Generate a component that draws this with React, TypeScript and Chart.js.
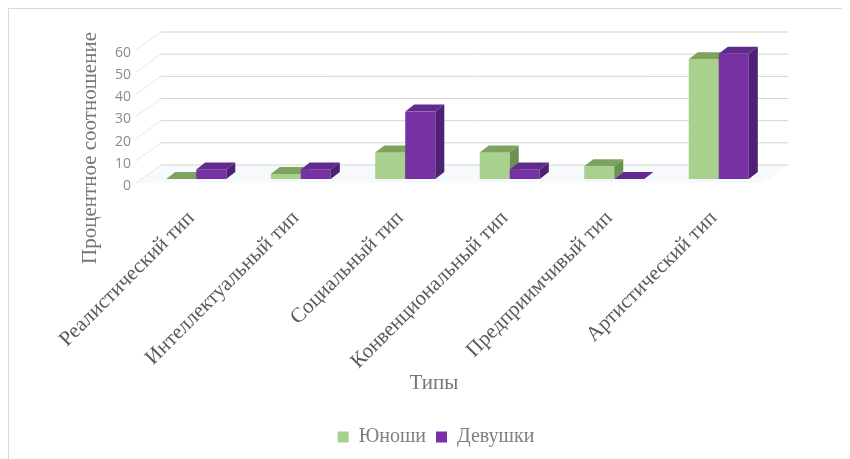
import React, { useRef, useEffect } from "react";
import { Chart, registerables } from "chart.js";

Chart.register(...registerables);

const categories = [
  "Реалистический тип",
  "Интеллектуальный тип",
  "Социальный тип",
  "Конвенциональный тип",
  "Предприимчивый тип",
  "Артистический тип",
];
const seriesNames = ["Юноши", "Девушки"];
const boysValues = [0, 2.3, 12, 12, 5.7, 54];
const girlsValues = [4.3, 4.3, 30.4, 4.3, 0, 56.5];
const yTicks = [0, 10, 20, 30, 40, 50, 60];
const xTitle = "Типы";
const yTitle = "Процентное соотношение";

// 3D look: back wall, front edge and bar depth offsets (px)
const WALL_DX = 17;
const WALL_DY = 14;
const EDGE_DX = -8;
const EDGE_DY = 4;
const BAR_DX = 9;
const BAR_DY = 7;

const faces = [
  { front: "#a9d18e", top: "#7ea35f", side: "#6d9150" },
  { front: "#7631a3", top: "#622a8d", side: "#4e2175" },
];

const serif = "'Liberation Serif', 'Times New Roman', serif";

const threeD = {
  id: "threeD",
  beforeDatasetsDraw(chart: any) {
    const { ctx, chartArea, scales } = chart;
    const { left, right, bottom } = chartArea;
    ctx.save();
    // floor
    ctx.fillStyle = "rgba(226, 238, 246, 0.3)";
    ctx.beginPath();
    ctx.moveTo(left + EDGE_DX, bottom + EDGE_DY);
    ctx.lineTo(right + EDGE_DX, bottom + EDGE_DY);
    ctx.lineTo(right + WALL_DX, bottom - WALL_DY);
    ctx.lineTo(left + WALL_DX, bottom - WALL_DY);
    ctx.closePath();
    ctx.fill();
    // side wall + back wall grid
    ctx.lineWidth = 1;
    scales.y.ticks.forEach((t: any) => {
      const py = scales.y.getPixelForValue(t.value);
      ctx.strokeStyle = "#e8e4e4";
      ctx.beginPath();
      ctx.moveTo(left + EDGE_DX, py + EDGE_DY);
      ctx.lineTo(left + WALL_DX, py - WALL_DY);
      ctx.stroke();
      ctx.strokeStyle = "#d9d2d2";
      ctx.beginPath();
      ctx.moveTo(left + WALL_DX, py - WALL_DY);
      ctx.lineTo(right + WALL_DX, py - WALL_DY);
      ctx.stroke();
    });
    ctx.restore();
  },
  beforeDatasetDraw() {
    return false;
  },
  afterDatasetsDraw(chart: any) {
    const { ctx } = chart;
    const metas = chart.data.datasets.map((_: any, i: number) => chart.getDatasetMeta(i));
    ctx.save();
    for (let j = 0; j < categories.length; j++) {
      metas.forEach((meta: any, i: number) => {
        const el = meta.data[j];
        const { x, y, base, width } = el.getProps(["x", "y", "base", "width"], true);
        const x0 = x - width / 2;
        const x1 = x + width / 2;
        const c = faces[i];
        ctx.fillStyle = c.front;
        ctx.fillRect(x0, y, width, base - y);
        ctx.fillStyle = c.top;
        ctx.beginPath();
        ctx.moveTo(x0, y);
        ctx.lineTo(x0 + BAR_DX, y - BAR_DY);
        ctx.lineTo(x1 + BAR_DX, y - BAR_DY);
        ctx.lineTo(x1, y);
        ctx.closePath();
        ctx.fill();
        ctx.fillStyle = c.side;
        ctx.beginPath();
        ctx.moveTo(x1, y);
        ctx.lineTo(x1 + BAR_DX, y - BAR_DY);
        ctx.lineTo(x1 + BAR_DX, base - BAR_DY);
        ctx.lineTo(x1, base);
        ctx.closePath();
        ctx.fill();
      });
    }
    ctx.restore();
  },
  afterDraw(chart: any) {
    const { ctx } = chart;
    ctx.save();
    ctx.font = `21px ${serif}`;
    ctx.fillStyle = "#767676";
    ctx.textAlign = "center";
    ctx.textBaseline = "middle";
    ctx.fillText(xTitle, 425, 374);
    ctx.translate(81, 139);
    ctx.rotate(-Math.PI / 2);
    ctx.fillText(yTitle, 0, 0);
    ctx.restore();
  },
};

const App: React.FC = () => {
  const chartRef = useRef<HTMLCanvasElement | null>(null);
  const chartInstanceRef = useRef<Chart | null>(null);

  useEffect(() => {
    if (chartRef.current) {
      const ctx = chartRef.current.getContext("2d");
      if (ctx) {
        chartInstanceRef.current = new Chart(ctx, {
          type: "bar",
          data: {
            labels: categories,
            datasets: [
              {
                label: seriesNames[0],
                data: boysValues,
                backgroundColor: faces[0].front,
                barPercentage: 1,
                categoryPercentage: 0.575,
              },
              {
                label: seriesNames[1],
                data: girlsValues,
                backgroundColor: faces[1].front,
                barPercentage: 1,
                categoryPercentage: 0.575,
              },
            ],
          },
          options: {
            responsive: false,
            animation: false,
            layout: { padding: { top: 37, right: 0, bottom: 2, left: 13 } },
            scales: {
              x: {
                grid: { display: false, drawTicks: false },
                border: { display: false },
                ticks: {
                  autoSkip: false,
                  minRotation: 45,
                  maxRotation: 45,
                  padding: 27,
                  labelOffset: -5,
                  color: "#595959",
                  font: { family: serif, size: 21 },
                },
                afterFit: (scale: any) => {
                  scale.height = 238;
                },
              },
              y: {
                min: 0,
                max: 60,
                grid: { display: false, drawTicks: false },
                border: { display: false },
                afterBuildTicks: (scale: any) => {
                  scale.ticks = yTicks.map((v) => ({ value: v }));
                },
                ticks: {
                  padding: 13,
                  labelOffset: 7,
                  color: "#8c8c8c",
                  font: { family: "'Open Sans', sans-serif", size: 14 },
                },
                afterFit: (scale: any) => {
                  scale.width = 122;
                },
              },
              yRight: {
                position: "right",
                grid: { display: false, drawTicks: false },
                border: { display: false },
                ticks: { display: false },
                afterFit: (scale: any) => {
                  scale.width = 79;
                },
              },
            },
            plugins: {
              legend: {
                position: "bottom",
                labels: {
                  boxWidth: 11,
                  boxHeight: 11,
                  padding: 10,
                  color: "#7f7f7f",
                  font: { family: serif, size: 20 },
                },
              },
              tooltip: { enabled: false },
            },
          },
          plugins: [threeD],
        });
      }
    }

    return () => {
      if (chartInstanceRef.current) {
        chartInstanceRef.current.destroy();
      }
    };
  }, []);

  return (
    <div
      style={{
        width: 842,
        height: 451,
        boxSizing: "border-box",
        borderTop: "1px solid #d9d9d9",
        borderLeft: "1px solid #d9d9d9",
        background: "#fff",
      }}
    >
      <canvas ref={chartRef} width={841} height={450} style={{ display: "block" }}></canvas>
    </div>
  );
};

export default App;
